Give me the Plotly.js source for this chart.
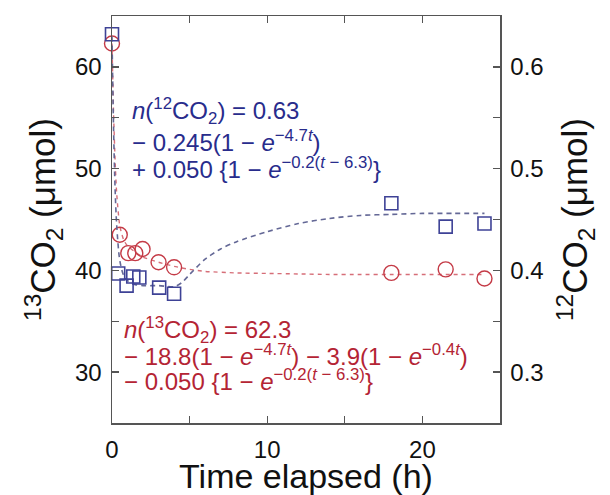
<!DOCTYPE html>
<html>
<head>
<meta charset="utf-8">
<script src="https://cdn.plot.ly/plotly-3.0.1.min.js"></script>
<style>html,body{margin:0;padding:0;background:#fff;}#plot{width:610px;height:495px;}</style>
</head>
<body>
<div id="plot"></div>
<script>
// Measured 13CO2 (left axis, µmol)
const t13 = [0, 0.5, 1.05, 1.5, 1.97, 3.0, 4.0, 18.0, 21.5, 24.0];
const n13 = [62.3, 43.5, 41.7, 41.7, 42.1, 40.8, 40.3, 39.75, 40.1, 39.2];
// Measured 12CO2 (right axis, µmol)
const t12 = [0, 0.4, 0.94, 1.37, 1.76, 3.04, 4.0, 18.0, 21.5, 24.0];
const n12 = [0.632, 0.397, 0.385, 0.394, 0.393, 0.383, 0.377, 0.466, 0.443, 0.446];
// Fitted curves
const tFit13 = [0, 0.1, 0.2, 0.3, 0.5, 0.75, 1, 1.5, 2, 3, 4, 5, 6, 8, 10, 12, 14, 16, 18, 20, 22, 24];
const nFit13 = [62.3, 55.5, 50.8, 47.6, 44.4, 43.0, 42.4, 41.8, 41.3, 40.8, 40.4, 40.1, 39.9, 39.75, 39.7, 39.65, 39.6, 39.6, 39.6, 39.6, 39.6, 39.6];
const tFit12 = [0, 0.1, 0.2, 0.3, 0.5, 0.75, 1, 1.5, 2, 3, 4, 4.5, 5, 6, 7, 8, 10, 12, 14, 16, 18, 20, 22, 24];
const nFit12 = [0.63, 0.54, 0.48, 0.445, 0.41, 0.395, 0.39, 0.386, 0.385, 0.385, 0.384, 0.388, 0.396, 0.411, 0.421, 0.428, 0.438, 0.446, 0.451, 0.454, 0.455, 0.456, 0.456, 0.456];

const RED = 'rgb(196,58,70)';
const BLUE = 'rgb(62,66,150)';
const RED_T = 'rgb(180,36,52)';
const BLUE_T = 'rgb(40,44,140)';
const FONT = 'Liberation Sans, Arial, Helvetica, sans-serif';

const traces = [
  {x: tFit13, y: nFit13, mode: 'lines', line: {color: 'rgb(214,110,120)', dash: '4px,4px', width: 1.4, shape: 'spline', smoothing: 0.6}, yaxis: 'y', hoverinfo: 'skip', cliponaxis: false},
  {x: tFit12, y: nFit12, mode: 'lines', line: {color: 'rgb(100,104,150)', dash: '5px,4px', width: 1.6, shape: 'spline', smoothing: 0.8}, yaxis: 'y2', hoverinfo: 'skip', cliponaxis: false},
  {x: t12, y: n12, mode: 'markers', yaxis: 'y2', cliponaxis: false,
   marker: {symbol: 'square-open', size: 13, color: BLUE, line: {width: 1.6, color: BLUE}}},
  {x: t13, y: n13, mode: 'markers', yaxis: 'y', cliponaxis: false,
   marker: {symbol: 'circle-open', size: 15, color: RED, line: {width: 1.4, color: RED}}}
];

const axisCommon = {
  showline: true, linecolor: '#555', linewidth: 1.5,
  ticks: 'inside', ticklen: 7, tickwidth: 1.3, tickcolor: '#555',
  showgrid: false, zeroline: false,
  tickfont: {family: FONT, size: 24, color: '#111'}
};

const ann = (text, x, y, color) => ({
  text: text, xref: 'paper', yref: 'paper', x: x, y: y, xanchor: 'left', yanchor: 'middle',
  showarrow: false, borderpad: 0, font: {family: FONT, size: 24, color: color}
});

const layout = {
  width: 610, height: 495,
  margin: {l: 112, r: 110, t: 16, b: 72},
  paper_bgcolor: '#fff', plot_bgcolor: '#fff',
  showlegend: false,
  xaxis: Object.assign({}, axisCommon, {
    range: [0, 25], dtick: 10, tick0: 0, mirror: 'ticks', ticklabelstandoff: 5,
    minor: {dtick: 5, ticks: 'inside', ticklen: 7, tickcolor: '#555', tickwidth: 1.3},
    title: {text: 'Time elapsed (h)', font: {family: FONT, size: 34, color: '#111'}, standoff: 0}
  }),
  yaxis: Object.assign({}, axisCommon, {
    range: [25, 65], dtick: 10, tick0: 0, ticklabelstandoff: 4,
    minor: {dtick: 5, ticks: 'inside', ticklen: 7, tickcolor: '#555', tickwidth: 1.3},
    title: {text: '<sup>13</sup>CO<sub>2</sub> (μmol)', font: {family: FONT, size: 35, color: '#111'}, standoff: 8}
  }),
  yaxis2: Object.assign({}, axisCommon, {
    range: [0.25, 0.65], dtick: 0.1, tick0: 0, overlaying: 'y', side: 'right',
    tickformat: '.1f', ticklabelstandoff: 4,
    minor: {dtick: 0.05, ticks: 'inside', ticklen: 7, tickcolor: '#555', tickwidth: 1.3},
    title: {text: '<sup>12</sup>CO<sub>2</sub> (μmol)', font: {family: FONT, size: 35, color: '#111'}, standoff: 20}
  }),
  annotations: [
    ann('<i>n</i>(<sup>12</sup>CO<sub>2</sub>) = 0.63', 0.048, 0.766, BLUE_T),
    ann('− 0.245(1 − <i>e</i><sup>−4.7<i>t</i></sup>)', 0.048, 0.694, BLUE_T),
    ann('+ 0.050 {1 − <i>e</i><sup>−0.2(<i>t</i> − 6.3)</sup>}', 0.048, 0.627, BLUE_T),
    ann('<i>n</i>(<sup>13</sup>CO<sub>2</sub>) = 62.3', 0.028, 0.229, RED_T),
    ann('− 18.8(1 − <i>e</i><sup>−4.7<i>t</i></sup>) − 3.9(1 − <i>e</i><sup>−0.4<i>t</i></sup>)', 0.028, 0.168, RED_T),
    ann('− 0.050 {1 − <i>e</i><sup>−0.2(<i>t</i> − 6.3)</sup>}', 0.028, 0.105, RED_T)
  ]
};

Plotly.newPlot('plot', traces, layout, {displayModeBar: false, staticPlot: true});
</script>
</body>
</html>
